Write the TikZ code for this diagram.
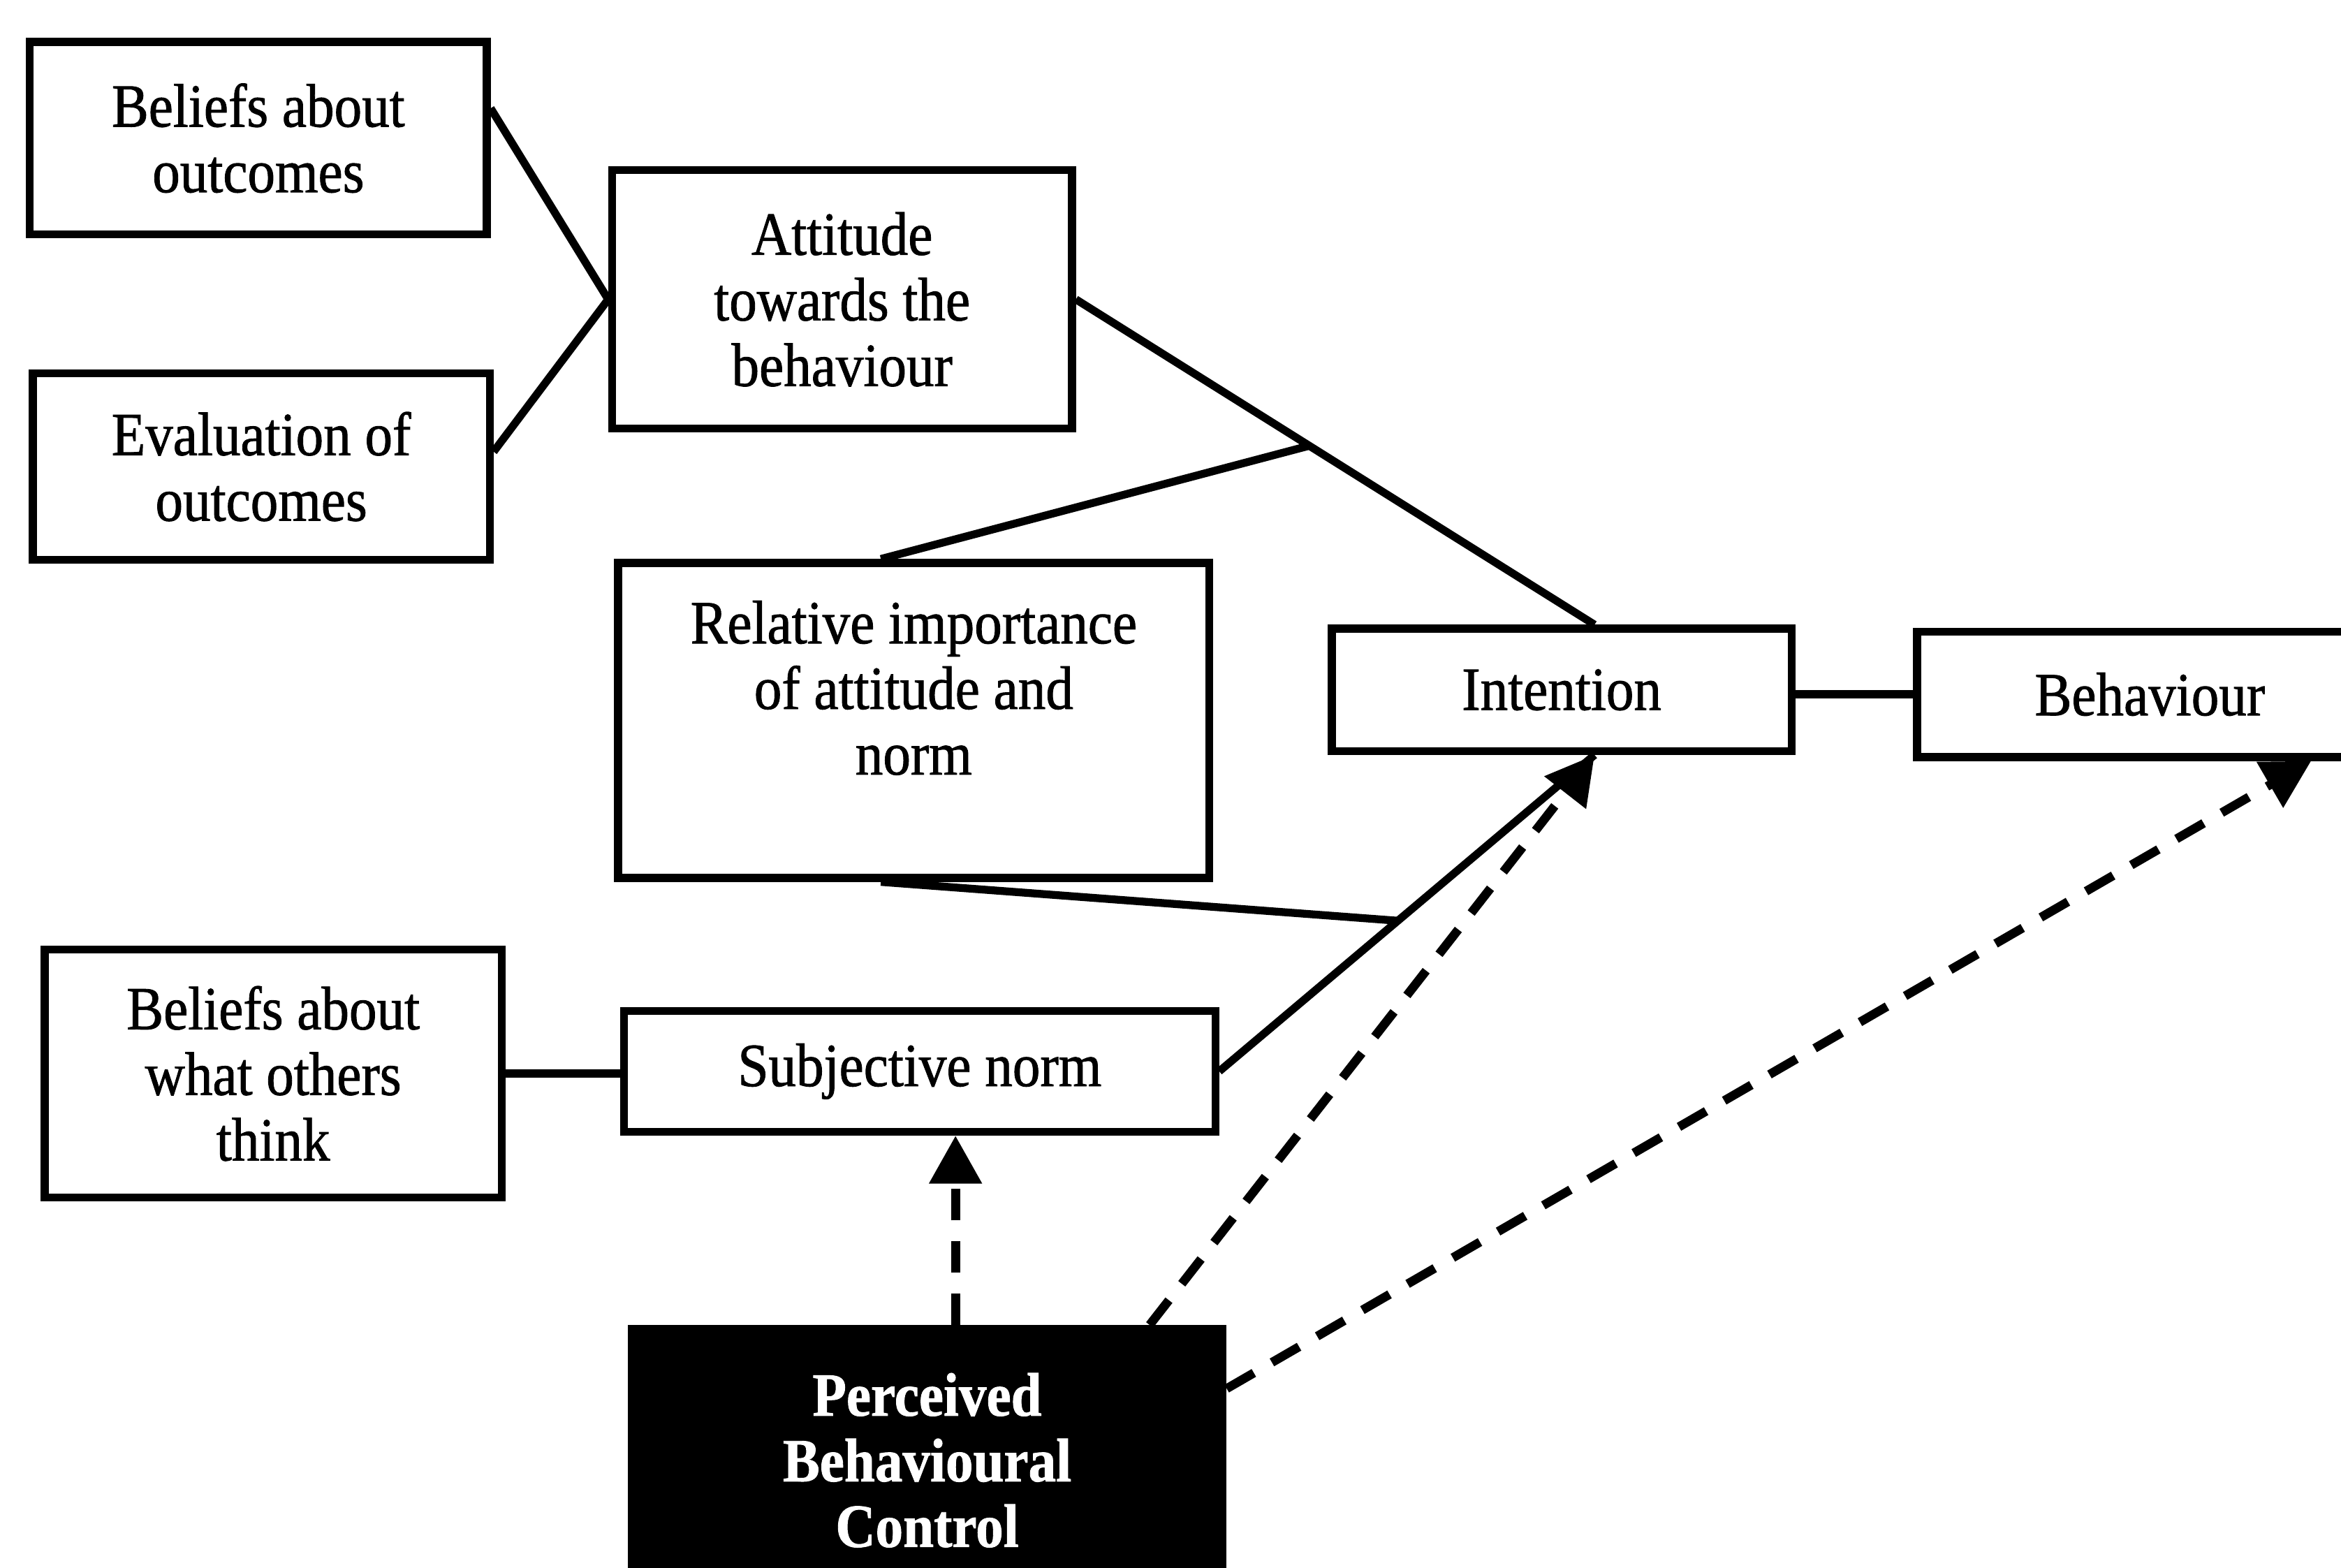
\documentclass[tikz,border=0pt]{standalone}
\usepackage{fontspec}
\setmainfont{Liberation Serif}[FakeStretch=0.9,FakeBold=1]
\usepackage{tikz}
\usetikzlibrary{arrows.meta,calc}

\begin{document}
\begin{tikzpicture}[line width=1.5pt, every node/.style={font=\fontsize{11.7}{12.5}\selectfont},
  box/.style={draw, rectangle, align=center, inner sep=2pt},
  link/.style={line width=1.5pt},
  dashlink/.style={line width=1.7pt, dash pattern=on 2.1mm off 1.4mm, -{Triangle[length=3.2mm,width=3.4mm]}}]
  \useasboundingbox (0,0) rectangle (15.68,-10.50);
  \node[box, minimum width=3.06cm, minimum height=1.29cm] (bo) at (1.73,-0.925) {Beliefs about\\outcomes};
  \node[box, minimum width=3.06cm, minimum height=1.25cm] (eo) at (1.75,-3.125) {Evaluation of\\outcomes};
  \node[box, minimum width=3.08cm, minimum height=1.73cm] (att) at (5.64,-2.005) {Attitude\\towards the\\behaviour};
  \node[box, minimum width=3.96cm, minimum height=2.11cm] (rel) at (6.12,-4.825) {Relative importance\\of attitude and\\norm\\\mbox{}};
  \node[box, minimum width=3.08cm, minimum height=0.82cm] (int) at (10.46,-4.62) {Intention};
  \node[box, minimum width=3.12cm, minimum height=0.84cm] (beh) at (14.40,-4.65) {Behaviour};
  \node[box, minimum width=3.06cm, minimum height=1.66cm] (bot) at (1.83,-7.19) {Beliefs about\\what others\\think};
  \node[box, minimum width=3.96cm, minimum height=0.81cm] (sn) at (6.16,-7.175) {Subjective norm};
  \node[box, fill=black, text=white, font=\fontsize{11.7}{12.5}\selectfont\bfseries, minimum width=3.96cm, minimum height=1.76cm] (pbc) at (6.21,-9.78) {Perceived\\Behavioural\\Control};
  \coordinate (ja) at ($(att.east)!0.45!([xshift=2.2mm]int.north)$);
  \coordinate (jb) at ($(sn.east)!0.476!([xshift=2.2mm]int.south)$);
  \draw[link] ([yshift=2mm]bo.east) -- (att.west);
  \draw[link] ([yshift=1mm]eo.east) -- (att.west);
  \draw[link] (att.east) -- ([xshift=2.2mm]int.north);
  \draw[link] ([xshift=-2.2mm]rel.north) -- (ja);
  \draw[link] ([xshift=-2.2mm]rel.south) -- (jb);
  \draw[link] (sn.east) -- ([xshift=2.2mm]int.south);
  \draw[link] ([yshift=-0.3mm]int.east) -- ([yshift=-0.3mm]int.east -| beh.west);
  \draw[link] (bot.east) -- (bot.east -| sn.west);
  \draw[dashlink] ([xshift=1.9mm]pbc.north) -- ([xshift=1.9mm]pbc.north |- sn.south);
  \draw[dashlink] ([xshift=1.49cm]pbc.north) -- ([xshift=2.2mm]int.south);
  \draw[dashlink] ([yshift=4.8mm]pbc.east) -- ([xshift=10.8mm]beh.south);
\end{tikzpicture}
\end{document}
